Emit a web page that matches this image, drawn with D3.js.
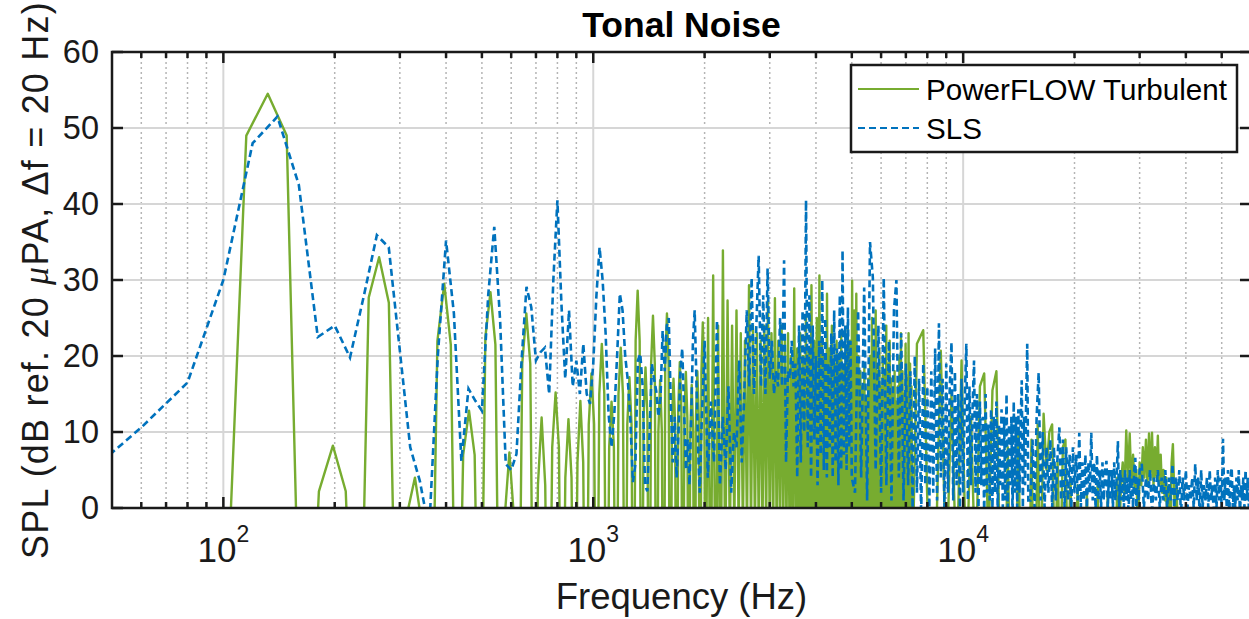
<!DOCTYPE html>
<html>
<head>
<meta charset="utf-8">
<script src="https://cdnjs.cloudflare.com/ajax/libs/d3/7.8.5/d3.min.js"></script>
<style>
  body { margin: 0; background: #fff; }
  svg { font-family: "Liberation Sans", Arial, Helvetica, sans-serif; }
</style>
</head>
<body>
<div id="chart"></div>
<script>
// ---- data ----

// SLS spectrum, 20 Hz bins from 40 Hz to 2 kHz
const blueLowStartHz = 40, blueLowStepHz = 20;
const blueLowDb = [3.2, 10.6, 16.5, 30,
    48, 51.5, 42.5, 22.5, 24, 19.8, 28, 35.9, 34.3, 20.7,
    8, 3.5, -3, 20, 35.2, 25.6, 6.2, 15.7, 14.1, 12.8,
    28, 37, 24.7, 5.8, 5, 7.1, 19.4, 29.1, 26.4, 19.4,
    20.5, 21.1, 15, 30, 40.5, 27, 17, 26, 16, 19.4,
    15, 21.6, 15, 13.7, 19, 28, 34.3, 30, 23, 12.4,
    8, 12.4, 20, 28.2, 26, 20, 16.8, 11.5, 3.4, 5.8,
    19.4, 20.3, 16, 3, 2.2, 10, 19, 17, 15.4, 12,
    14.5, 23.3, 18, 24, 25, 14, 6, 12, 4, 10,
    18, 21, 13, 5, 9, 3, 12, 22, 26, 17,
    8, 2, 10, 16, 22];
// SLS, 2.04 - 5 kHz (coarser reading, 40 Hz)
const blueMidStartHz = 2040, blueMidStepHz = 40;
const blueMidDb = [4, 14, 6, 24.7, 3, 12, 5, 16, 2, 10,
    8, 19.4, 6, 15, 26, 16, 30.3, 15, 24, 33.2,
    16, 28, 15, 31.5, 17, 22, 15, 18, 16, 25,
    16, 32.6, 6, 18, 17, 22, 16, 19, 4, 24,
    6, 26, 10, 40.5, 8, 28, 4, 24, 9, 20,
    3, 22, 7, 30, 5, 25, 4, 19, 8, 23,
    4, 26, 6, 21, 3, 28, 5, 33.9, 7, 24,
    5, 26.4, 8, 22, 4];
// SLS, 5.1 - 15 kHz (100 Hz)
const blueHighStartHz = 5100, blueHighStepHz = 100;
const blueHighDb = [2, 26, 4, 29, 1, 35, 30.3, 5, 24, 2,
    30.3, 3, 22, 1, 26, 30, 4, 23, 1, 19,
    3, 18, 0, 20, 2, 17, -1, 19, 3, 16,
    0, 18, 2, 21, 1, 24.3, 4, 17, 0, 19,
    2, 16, 21.8, 1, 18, 3, 15, 0, 17, 2,
    14, 21.6, 1, 16, 3, 13, 19.4, 2, 15, 0,
    14, 3, 12, -1, 15, 2, 11, 1, 13, 0,
    12, 2, 14, -1, 11, 3, 13, 0, 12, 1,
    15, 0, 11, 3, 12, -1, 14, 2, 12, 0,
    13, 2, 11, 16.8, 0, 12, 3, 14, 21.6, 1];
// SLS, 15.2 - 30 kHz (200 Hz)
const blueTop1StartHz = 15200, blueTop1StepHz = 200;
const blueTop1Db = [1, 9, 0, 12, 17.8, 1, 10, 0, 8, 2,
    9, 0, 8, 1, 7, 10.6, 1, 9, 0, 8,
    1, 7, 0, 8, 2, 7, 1, 9.9, 0, 6,
    1, 7, 0, 6, 2, 9.9, 1, 6, 0, 7,
    1, 5, 0, 6, 1, 5, 6.2, 0, 5, 1,
    5, 0, 6, 1, 4, 8.8, 0, 5, 1, 4,
    0, 5, 1, 4, -1, 5, 1, 4, 0, 5,
    6.6, 0, 4, 1, 5];
// SLS, 30.4 - 60 kHz (400 Hz)
const blueTop2StartHz = 30400, blueTop2StepHz = 400;
const blueTop2Db = [5.8, 0, 4, 1, 5, -1, 4, 1, 5, 0,
    4, 1, 5, 0, 4, 1, 5.8, 0, 4, 1,
    5, -1, 4, 1, 5, 0, 3, 1, 4, 0,
    5.8, 1, 4, -1, 5, 0, 3, 1, 4, 0,
    5, 1, 3, -1, 4, 0, 5, 1, 4, 0,
    9.1, 1, 4, 0, 5, -1, 4, 5.3, 0, 3,
    0, 4, 1, 5, -1, 3, 1, 4, 0, 5,
    1, 4, 0, 3, 1];

// PowerFLOW spectrum, bin width 16.48 Hz, starting at bin 3
const greenBinHz = 16.48;
const greenLowFirstBin = 3;
const greenLowDb = [-35, -35, -35, -30, 49, 54.5, 49, -40, 2.2, 8.2,
    2.2, -40, 27.7, 33, 27, -35, -1, 4, -3, -35,
    22, 29.5, 21.5, -35, 7, 12.8, 7, -35, 22.5, 28.4,
    21.5, -35, -1, 7.3, -1, -35, 19, 25.6, 19, -35,
    3, 11.9, 3, -35, 8, 15.2, 8, -35, 4, 11.7,
    4, -35, 6, 14.1, 6, -35, 11, 17.7, 11, -35,
    15, 21.6, 15, -35, 8, 14, 8, -35, 15, 21.1,
    15, -35, 11, 17.2, 11, -35, 22, 28.6, 22, -35,
    12, 18.5, 12, -35, 19, 25.3, 19, -35, 10, 16.8,
    10, -35, 19, 25.6, 19, -35, 11, 17, 11, -35,
    13, 19.2, 13, -35, 12, 17.9, 12, -35, 10, 16.2,
    10, -35, 12, 18, 12, -35, 18, 24.4, 18];
// PowerFLOW, bins 122..442 read every second bin (trough, peak, ...)
const greenMidFirstBin = 122, greenMidBinStep = 2;
const greenMidDb = [-20, 25, -20, 30.6, -20, 24, -20, 33.9, -10, 27.3, -5, 24, -3, 26, -3, 23, -3, 22, -3, 29.3,
    -3, 24, -3, 23, -3, 22, -3, 24, -3, 27.3, -3, 23, -3, 27.6, -3, 22, -3, 24, -3, 22,
    -3, 23, -5, 20, -5, 28.9, -5, 21, -5, 23, -5, 20, -5, 25, -5, 21, -5, 29.3, -5, 22,
    -5, 25, -5, 30.6, -5, 22, -5, 20, -5, 28.2, -5, 21, -5, 24, -5, 19, -5, 22, -5, 20,
    -5, 23, -5, 18, -5, 21, -5, 24, -5, 22, -5, 29.9, -5, 26, -5, 28.2, -5, 20, -5, 18,
    -5, 16, -3, 19, -3, 14, -3, 17, -3, 20, -3, 25, -3, 22, -3, 26, -3, 18, -3, 21,
    -5, 16, -5, 20, -5, 18, -5, 24, -5, 19, -5, 22, -10, 17, -10, 15, -10, 18, -10, 14,
    -10, 16, -10, 20, -10, 23, -10, 18, -10, 15, -10, 21.6, -10, 17, -10, 23, -10, 19, -10, 16,
    -10];
// PowerFLOW, 7.5 - 60 kHz (300 Hz)
const greenTopStartHz = 7500, greenTopStepHz = 300;
const greenTopDb = [21.6, 23.4, -10, -10, 20.7, -10, 15, -10, 19.4, -10,
    12, -10, 16, 17.7, -5, 15.5, 18, -10, -20, 8,
    -20, -20, 10, -20, -20, -20, 9, -20, 11, -10,
    12.4, 5, 10, 11, -10, 6, -10, 8, 9, -10,
    4, -10, -10, 3, -10, -10, -10, 2, -10, -10,
    -10, -10, 3, -10, -10, -10, -10, 2, -10, -10,
    -10, -10, 4, -5, 3, 6, 2, 10.2, 4, 9.8,
    3, 7, 2, 5, -5, 6, 3, 8, 4, 9,
    3, 9.8, 4, 9.9, 3, 8, 4, 9.5, 3, 7,
    2, 5, 1, 4, -5, 3, -5, 6, 8.4, 2,
    -5, 3, -10, -10, -10, -10, -10, -10, -10, -10,
    -10, -10, -10, -10, -10, -10, -10, -10, -10, -10,
    -10, -10, -10, -10, -10, -10, -10, -10, -10, -10,
    -10, -10, -10, -10, -10, -10, -10, -10, -10, -10,
    -10, -10, -10, -10, -10, -10, -10, -10, -10, -10,
    -10, -10, -10, -10, -10, -10, -10, -10, -10, -10,
    -10, -10, -10, -10, -10, -10, -10, -10, -10, -10,
    -10, -10, -10, -10, -10, -10];

const xMajorTicks = [100, 1000, 10000];
const xMajorExp = ["2", "3", "4"];
const yTicks = [0, 10, 20, 30, 40, 50, 60];
const seriesNames = ["PowerFLOW Turbulent", "SLS"];

// ---- build the two series ----
function band(startHz, stepHz, values) {
    return values.map((v, i) => ({ f: startHz + i * stepHz, v: v }));
}
const greenData = [].concat(
    band(greenLowFirstBin * greenBinHz, greenBinHz, greenLowDb),
    band(greenMidFirstBin * greenBinHz, greenMidBinStep * greenBinHz, greenMidDb),
    band(greenTopStartHz, greenTopStepHz, greenTopDb)
);
const blueData = [].concat(
    band(blueLowStartHz, blueLowStepHz, blueLowDb),
    band(blueMidStartHz, blueMidStepHz, blueMidDb),
    band(blueHighStartHz, blueHighStepHz, blueHighDb),
    band(blueTop1StartHz, blueTop1StepHz, blueTop1Db),
    band(blueTop2StartHz, blueTop2StepHz, blueTop2Db)
);

// ---- layout ----
const width = 1249, height = 619;
const pLeft = 112, pRight = 1251, pTop = 52, pBottom = 508;
const green = "#77AC30", blue = "#0072BD", ink = "#1a1a1a";

const svg = d3.select("#chart").append("svg")
    .attr("width", width)
    .attr("height", height);

const x = d3.scaleLog().domain([50, 60000]).range([pLeft, pRight]);
const y = d3.scaleLinear().domain([0, 60]).range([pBottom, pTop]);

svg.append("defs").append("clipPath").attr("id", "plotClip")
    .append("rect")
    .attr("x", pLeft).attr("y", pTop)
    .attr("width", pRight - pLeft).attr("height", pBottom - pTop);

// minor decade ticks (60..90, 200..900, ...)
const xMinorTicks = [];
[10, 100, 1000, 10000].forEach(dec => {
    for (let m = 2; m <= 9; m++) {
        const f = m * dec;
        if (f > 50 && f < 60000) xMinorTicks.push(f);
    }
});

// grid
const grid = svg.append("g");
grid.selectAll("line.minor").data(xMinorTicks).enter().append("line")
    .attr("x1", d => x(d)).attr("x2", d => x(d))
    .attr("y1", pTop).attr("y2", pBottom)
    .attr("stroke", "#b5b5b5").attr("stroke-width", 1.5)
    .attr("stroke-dasharray", "2,3");
grid.selectAll("line.majx").data(xMajorTicks).enter().append("line")
    .attr("x1", d => x(d)).attr("x2", d => x(d))
    .attr("y1", pTop).attr("y2", pBottom)
    .attr("stroke", "#d6d6d6").attr("stroke-width", 2);
grid.selectAll("line.majy").data(yTicks.slice(1, -1)).enter().append("line")
    .attr("x1", pLeft).attr("x2", pRight)
    .attr("y1", d => y(d)).attr("y2", d => y(d))
    .attr("stroke", "#d6d6d6").attr("stroke-width", 2);

// data lines
const line = d3.line().x(d => x(d.f)).y(d => y(d.v));
const plot = svg.append("g").attr("clip-path", "url(#plotClip)");
plot.append("path").datum(greenData)
    .attr("d", line)
    .attr("fill", "none")
    .attr("stroke", green)
    .attr("stroke-width", 2.4)
    .attr("stroke-linejoin", "round");
plot.append("path").datum(blueData)
    .attr("d", line)
    .attr("fill", "none")
    .attr("stroke", blue)
    .attr("stroke-width", 2.6)
    .attr("stroke-dasharray", "7,4");

// axes box and ticks
const axes = svg.append("g").attr("stroke", ink);
axes.append("rect")
    .attr("x", pLeft).attr("y", pTop)
    .attr("width", pRight - pLeft).attr("height", pBottom - pTop)
    .attr("fill", "none").attr("stroke-width", 2.5);

const majLen = 11, minLen = 6;
xMajorTicks.forEach(t => {
    axes.append("line").attr("x1", x(t)).attr("x2", x(t)).attr("y1", pBottom).attr("y2", pBottom - majLen).attr("stroke-width", 2.5);
    axes.append("line").attr("x1", x(t)).attr("x2", x(t)).attr("y1", pTop).attr("y2", pTop + majLen).attr("stroke-width", 2.5);
});
xMinorTicks.forEach(t => {
    axes.append("line").attr("x1", x(t)).attr("x2", x(t)).attr("y1", pBottom).attr("y2", pBottom - minLen).attr("stroke-width", 2.5);
    axes.append("line").attr("x1", x(t)).attr("x2", x(t)).attr("y1", pTop).attr("y2", pTop + minLen).attr("stroke-width", 2.5);
});
yTicks.forEach(t => {
    axes.append("line").attr("x1", pLeft).attr("x2", pLeft + majLen).attr("y1", y(t)).attr("y2", y(t)).attr("stroke-width", 2.5);
    axes.append("line").attr("x1", pRight).attr("x2", pRight - majLen).attr("y1", y(t)).attr("y2", y(t)).attr("stroke-width", 2.5);
});

// tick labels
svg.selectAll("text.ytick").data(yTicks).enter().append("text")
    .attr("x", 99).attr("y", d => y(d))
    .attr("text-anchor", "end")
    .attr("dominant-baseline", "central")
    .attr("font-size", 32.5)
    .attr("fill", ink)
    .text(d => d);

xMajorTicks.forEach((t, i) => {
    const lbl = svg.append("text")
        .attr("x", x(t)).attr("y", 562)
        .attr("text-anchor", "middle")
        .attr("fill", ink);
    lbl.append("tspan").attr("font-size", 35).text("10");
    lbl.append("tspan").attr("font-size", 23).attr("dy", -20).text(xMajorExp[i]);
});

// title and axis labels
svg.append("text")
    .attr("x", (pLeft + pRight) / 2).attr("y", 37)
    .attr("text-anchor", "middle")
    .attr("font-size", 35.5).attr("font-weight", "bold")
    .attr("fill", "#000")
    .text("Tonal Noise");

svg.append("text")
    .attr("x", (pLeft + pRight) / 2).attr("y", 609)
    .attr("text-anchor", "middle")
    .attr("font-size", 36.5)
    .attr("fill", ink)
    .text("Frequency (Hz)");

const ylab = svg.append("text")
    .attr("transform", `translate(48, ${(pTop + pBottom) / 2}) rotate(-90)`)
    .attr("text-anchor", "middle")
    .attr("font-size", 36)
    .attr("letter-spacing", 1.2)
    .attr("fill", ink);
ylab.append("tspan").text("SPL (dB ref. 20 ");
ylab.append("tspan").attr("font-family", "'Liberation Serif', 'DejaVu Serif', serif")
    .attr("font-style", "italic").text("\u03bc");
ylab.append("tspan").text("PA, \u0394f = 20 Hz)");

// legend
const legend = svg.append("g");
legend.append("rect")
    .attr("x", 851).attr("y", 65).attr("width", 386).attr("height", 87)
    .attr("fill", "#fff").attr("stroke", ink).attr("stroke-width", 2.5);
const legendColors = [green, blue];
const legendDash = [null, "7,4"];
seriesNames.forEach((name, i) => {
    const ly = 89 + i * 39;
    legend.append("line")
        .attr("x1", 858).attr("x2", 919).attr("y1", ly).attr("y2", ly)
        .attr("stroke", legendColors[i]).attr("stroke-width", 2.2)
        .attr("stroke-dasharray", legendDash[i]);
    legend.append("text")
        .attr("x", 926).attr("y", ly)
        .attr("dominant-baseline", "central")
        .attr("font-size", 29.6)
        .attr("fill", "#000")
        .text(name);
});
</script>
</body>
</html>
